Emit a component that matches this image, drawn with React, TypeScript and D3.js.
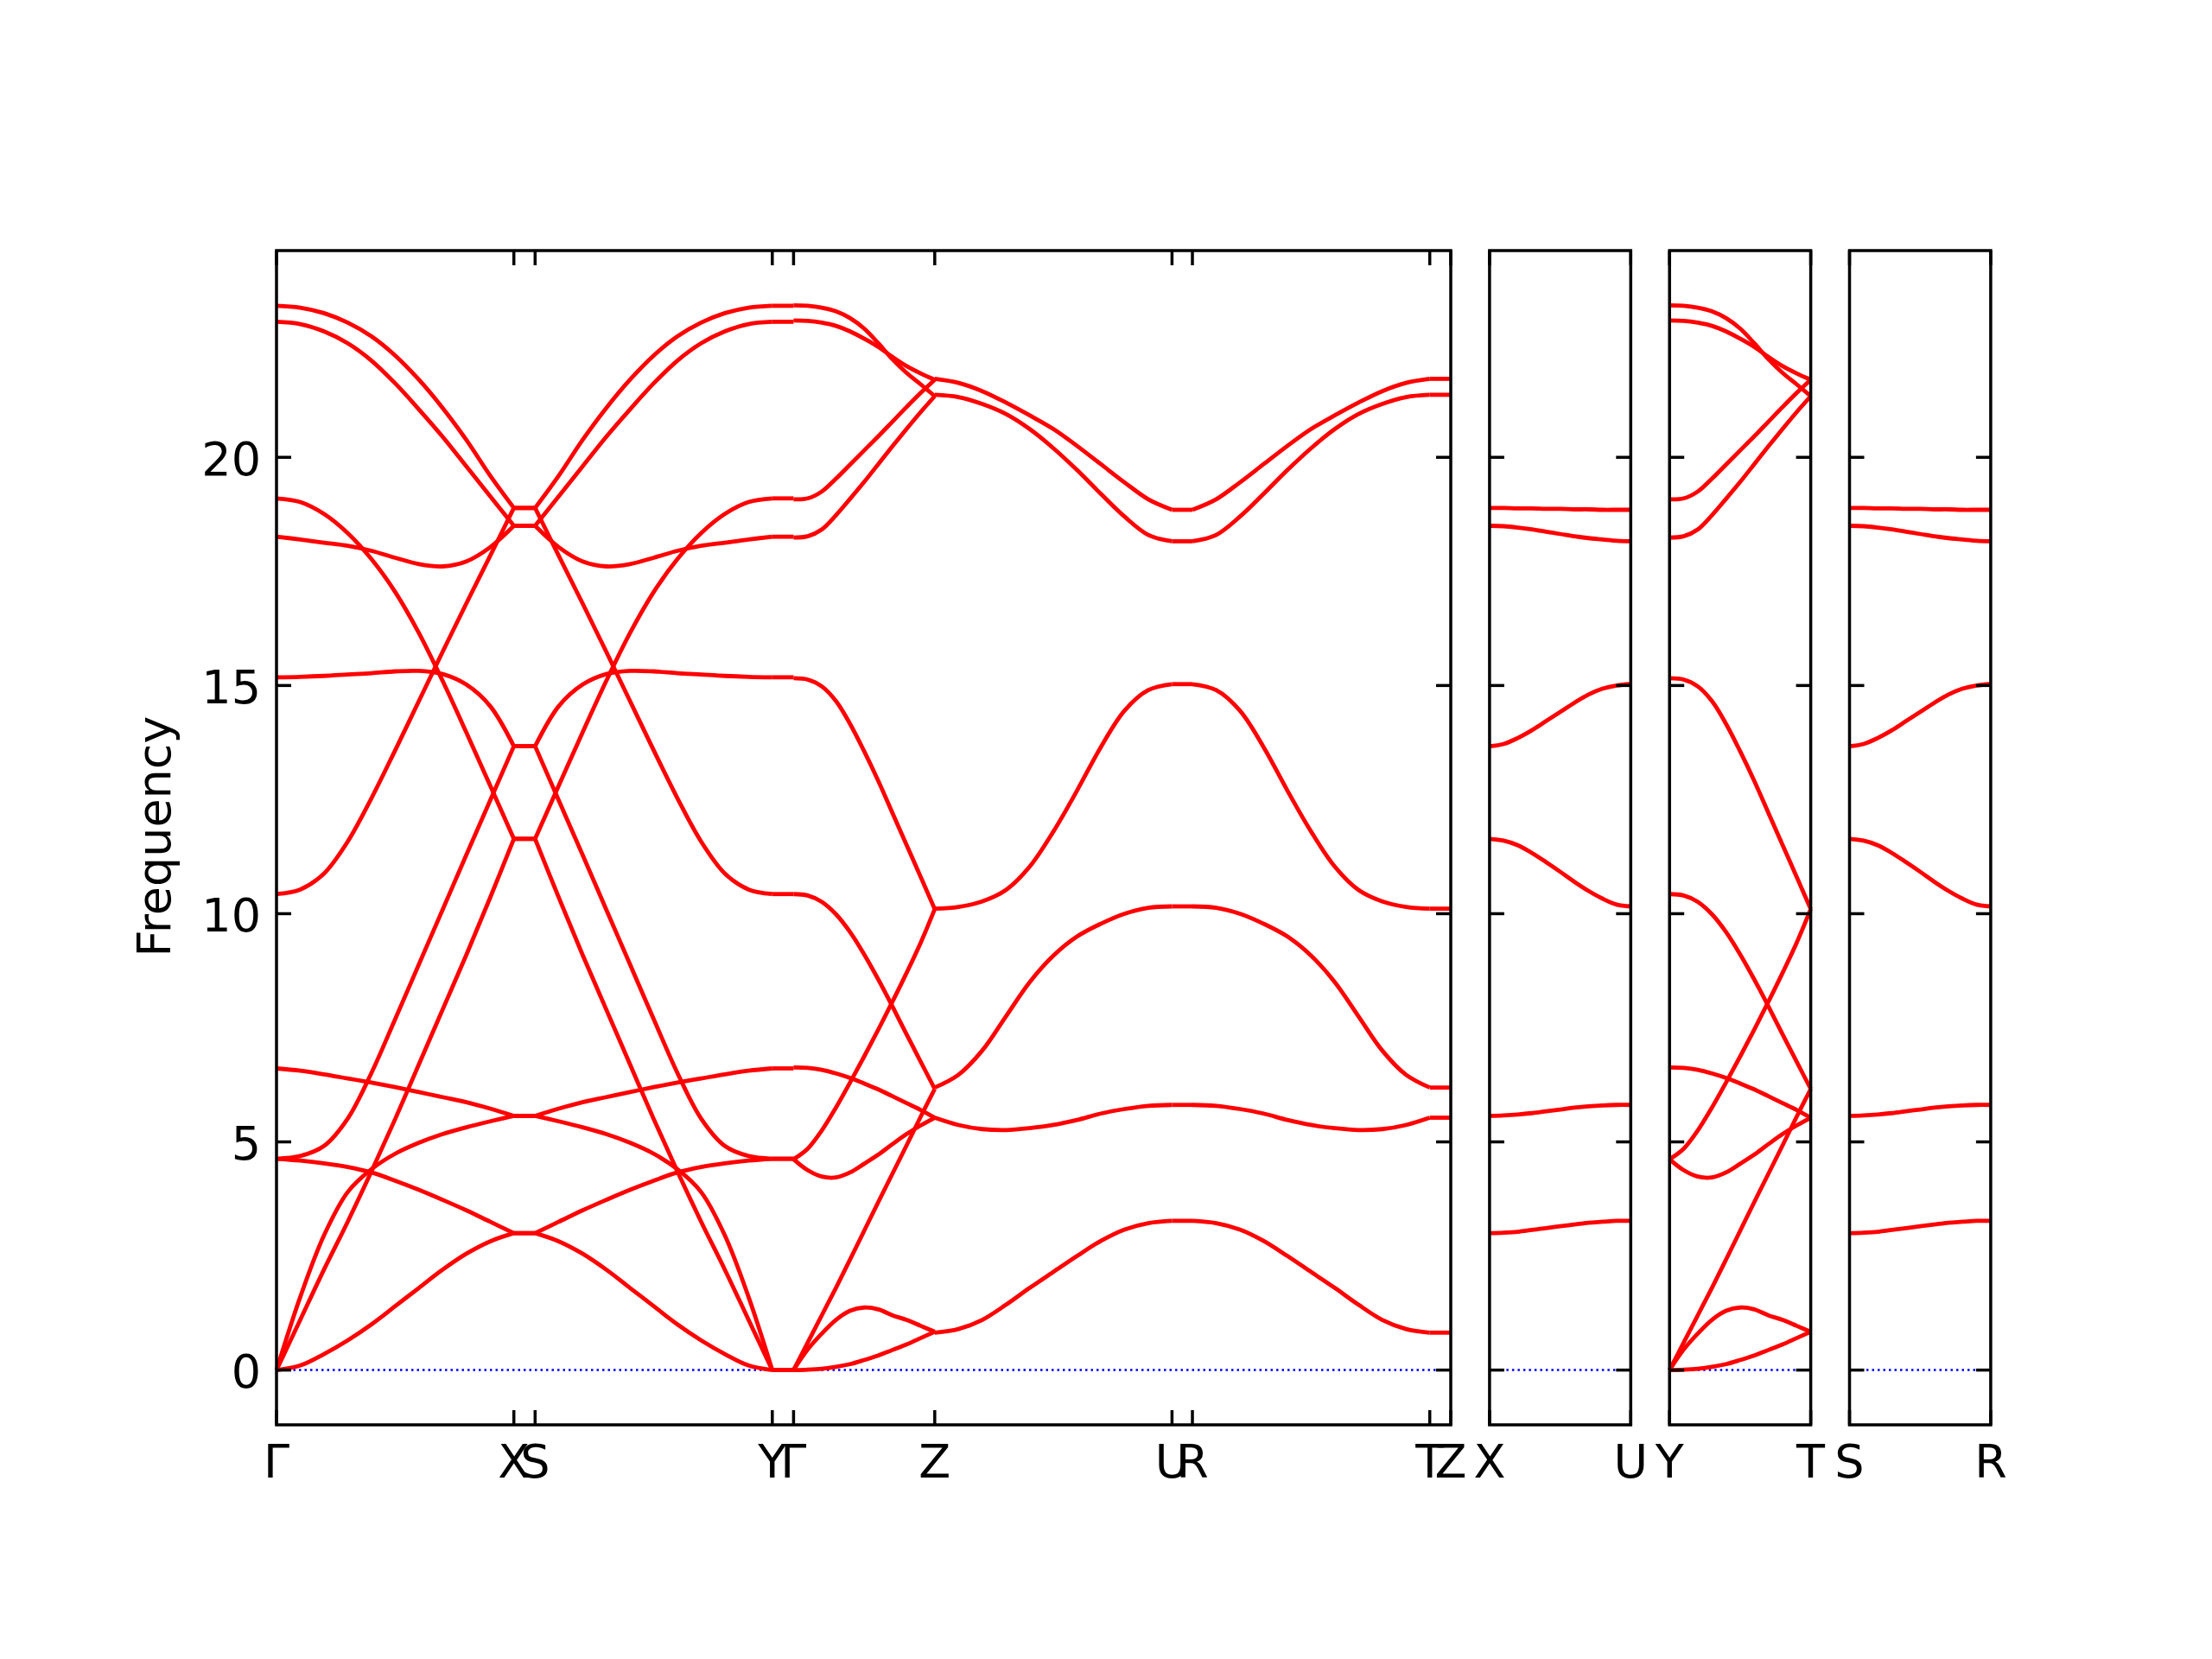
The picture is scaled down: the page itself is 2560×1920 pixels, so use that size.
import React from 'react'
import * as d3 from 'd3'

const W = 2560
const H = 1920

// band values sampled at t = 0, 0.1, ... 1 along each path segment
// Γ–X (S–Y is the same segment walked backwards)
const gammaX = [
  [23.32, 23.28, 23.16, 22.95, 22.65, 22.23, 21.7, 21.08, 20.38, 19.6, 18.89],
  [22.97, 22.92, 22.76, 22.5, 22.12, 21.62, 21.05, 20.45, 19.8, 19.15, 18.5],
  [19.1, 19.02, 18.76, 18.34, 17.77, 17.05, 16.15, 15.1, 13.97, 12.81, 11.64],
  [10.43, 10.53, 10.88, 11.58, 12.53, 13.58, 14.66, 15.74, 16.8, 17.84, 18.89],
  [15.18, 15.19, 15.21, 15.24, 15.27, 15.31, 15.32, 15.25, 15.02, 14.55, 13.67],
  [18.26, 18.2, 18.13, 18.06, 17.95, 17.8, 17.66, 17.61, 17.72, 18.03, 18.5],
  [6.61, 6.56, 6.48, 6.39, 6.3, 6.2, 6.09, 5.98, 5.87, 5.73, 5.57],
  [4.63, 4.69, 4.91, 5.51, 6.51, 7.69, 8.89, 10.09, 11.29, 12.48, 13.67],
  [0, 1.1, 2.2, 3.25, 4.35, 5.5, 6.7, 7.9, 9.1, 10.35, 11.64],
  [4.63, 4.59, 4.53, 4.45, 4.33, 4.15, 3.95, 3.73, 3.5, 3.25, 3.0],
  [0, 1.6, 2.95, 3.9, 4.4, 4.74, 4.98, 5.17, 5.32, 5.45, 5.57],
  [0, 0.1, 0.35, 0.65, 1.0, 1.4, 1.8, 2.2, 2.55, 2.82, 3.0],
]

// Γ–Z (Y–T looks identical)
const gammaZ = [
  [23.33, 23.32, 23.28, 23.2, 23.05, 22.82, 22.5, 22.15, 21.85, 21.6, 21.34],
  [23.0, 22.99, 22.95, 22.88, 22.76, 22.6, 22.42, 22.2, 22.0, 21.84, 21.7],
  [19.08, 19.1, 19.25, 19.53, 19.84, 20.15, 20.46, 20.78, 21.1, 21.41, 21.7],
  [18.24, 18.27, 18.42, 18.73, 19.09, 19.46, 19.85, 20.24, 20.62, 20.99, 21.34],
  [15.16, 15.13, 14.98, 14.66, 14.16, 13.56, 12.91, 12.21, 11.51, 10.81, 10.1],
  [10.43, 10.4, 10.26, 9.99, 9.6, 9.11, 8.56, 7.97, 7.36, 6.76, 6.16],
  [6.63, 6.62, 6.58, 6.5, 6.4, 6.28, 6.15, 6.0, 5.85, 5.7, 5.53],
  [4.62, 4.85, 5.25, 5.75, 6.3, 6.87, 7.46, 8.07, 8.7, 9.36, 10.1],
  [4.62, 4.38, 4.24, 4.22, 4.33, 4.52, 4.72, 4.95, 5.17, 5.36, 5.53],
  [0, 0.6, 1.2, 1.8, 2.42, 3.05, 3.68, 4.3, 4.92, 5.55, 6.16],
  [0, 0.45, 0.8, 1.1, 1.3, 1.37, 1.33, 1.2, 1.1, 0.97, 0.84],
  [0, 0.01, 0.03, 0.07, 0.13, 0.22, 0.32, 0.44, 0.56, 0.7, 0.84],
]

// Z–U (R–T is the mirror), every line doubly degenerate
const zU = [
  [21.72, 21.63, 21.45, 21.2, 20.92, 20.62, 20.25, 19.85, 19.45, 19.08, 18.85],
  [21.37, 21.32, 21.17, 20.95, 20.62, 20.2, 19.72, 19.2, 18.7, 18.3, 18.16],
  [10.11, 10.15, 10.27, 10.52, 11.03, 11.8, 12.7, 13.65, 14.45, 14.9, 15.03],
  [6.19, 6.47, 7.0, 7.75, 8.5, 9.08, 9.5, 9.78, 10.0, 10.13, 10.16],
  [5.53, 5.37, 5.28, 5.26, 5.3, 5.37, 5.48, 5.62, 5.72, 5.79, 5.81],
  [0.82, 0.9, 1.1, 1.43, 1.8, 2.15, 2.5, 2.83, 3.08, 3.22, 3.27],
]

// X–U (S–R looks identical)
const xU = [
  [18.89, 18.89, 18.88, 18.88, 18.87, 18.87, 18.86, 18.86, 18.85, 18.85, 18.85],
  [18.5, 18.49, 18.46, 18.42, 18.37, 18.32, 18.27, 18.23, 18.2, 18.17, 18.16],
  [13.67, 13.72, 13.85, 14.02, 14.22, 14.42, 14.62, 14.8, 14.93, 15.0, 15.03],
  [11.64, 11.6, 11.5, 11.33, 11.13, 10.92, 10.7, 10.5, 10.33, 10.2, 10.16],
  [5.57, 5.58, 5.6, 5.63, 5.67, 5.71, 5.75, 5.78, 5.8, 5.81, 5.81],
  [3.0, 3.01, 3.03, 3.07, 3.11, 3.15, 3.19, 3.23, 3.25, 3.27, 3.27],
]

const mainLabels = ['Γ', 'X', 'S', 'Y', 'Γ', 'Z', 'U', 'R', 'T', 'Z']
const mainDist = [0, 0.2747, 0.2993, 0.5738, 0.5984, 0.7618, 1.0364, 1.06, 1.3347, 1.359]
const sideLabels = [['X', 'U'], ['Y', 'T'], ['S', 'R']]
const sideLength = 0.1634
const yTicks = [0, 5, 10, 15, 20]

const first = (bands: number[][]) => bands.map(b => [b[0], b[0]])
const last = (bands: number[][]) => bands.map(b => [b[b.length - 1], b[b.length - 1]])
const rev = (bands: number[][]) => bands.map(b => b.slice().reverse())

// main panel: [from point, to point, bands]
const mainSegments: [number, number, number[][]][] = [
  [0, 1, gammaX],
  [1, 2, last(gammaX)],
  [2, 3, rev(gammaX)],
  [3, 4, first(gammaX)],
  [4, 5, gammaZ],
  [5, 6, zU],
  [6, 7, last(zU)],
  [7, 8, rev(zU)],
  [8, 9, first(zU)],
]
const sideSegments = [xU, gammaZ, xU]

const top = 290
const bottom = 1649
const yScale = d3.scaleLinear().domain([-1.2, 24.53]).range([bottom, top])

const font = 'DejaVu Sans, sans-serif'
const fs = 54
const tickLen = 17

const Panel = ({ x0, x1, dist, labels, segments, yLabels }: any) => {
  const xs = d3.scaleLinear().domain([0, dist[dist.length - 1]]).range([x0, x1])
  const line = d3.line<number[]>()
    .x(d => xs(d[0]))
    .y(d => yScale(d[1]))
    .curve(d3.curveCatmullRom.alpha(0.5))

  const paths: string[] = []
  segments.forEach(([a, b, bands]: [number, number, number[][]]) => {
    bands.forEach(vals => {
      const pts = vals.map((v, i) => [dist[a] + (dist[b] - dist[a]) * i / (vals.length - 1), v])
      paths.push(line(pts) as string)
    })
  })

  return (
    <g>
      <line x1={x0} x2={x1} y1={yScale(0)} y2={yScale(0)} stroke="#0000ff"
        strokeWidth={2.5} strokeDasharray="2.5 4" />
      {paths.map((p, i) => (
        <path key={i} d={p} fill="none" stroke="#ff0000" strokeWidth={4.8}
          strokeLinejoin="round" strokeLinecap="butt" />
      ))}
      {yTicks.map(t => (
        <g key={t}>
          <line x1={x0} x2={x0 + tickLen} y1={yScale(t)} y2={yScale(t)} stroke="#000" strokeWidth={3.5} />
          <line x1={x1 - tickLen} x2={x1} y1={yScale(t)} y2={yScale(t)} stroke="#000" strokeWidth={3.5} />
          {yLabels && (
            <text x={x0 - 18} y={yScale(t)} dy="0.38em" textAnchor="end"
              fontFamily={font} fontSize={fs}>{t}</text>
          )}
        </g>
      ))}
      {dist.map((d: number, i: number) => (
        <g key={i}>
          <line x1={xs(d)} x2={xs(d)} y1={bottom} y2={bottom - tickLen} stroke="#000" strokeWidth={3.5} />
          <line x1={xs(d)} x2={xs(d)} y1={top} y2={top + tickLen} stroke="#000" strokeWidth={3.5} />
          <text x={xs(d)} y={1710} textAnchor="middle" fontFamily={font} fontSize={fs}>{labels[i]}</text>
        </g>
      ))}
      <rect x={x0} y={top} width={x1 - x0} height={bottom - top} fill="none"
        stroke="#000" strokeWidth={3.5} />
    </g>
  )
}

const sideLefts = [1723.9, 1932.2, 2140.5]
const sideWidth = 163.4

export default function App() {
  return (
    <svg width={W} height={H} viewBox={`0 0 ${W} ${H}`}
      style={{ position: 'absolute', left: 0, top: 0, background: '#fff' }}>
      <rect x={0} y={0} width={W} height={H} fill="#fff" />
      <Panel x0={320} x1={1679} dist={mainDist} labels={mainLabels}
        segments={mainSegments} yLabels />
      {sideSegments.map((bands, i) => (
        <Panel key={i} x0={sideLefts[i]} x1={sideLefts[i] + sideWidth}
          dist={[0, sideLength]} labels={sideLabels[i]}
          segments={[[0, 1, bands]]} yLabels={false} />
      ))}
      <text transform={`translate(197,968) rotate(-90)`} textAnchor="middle"
        fontFamily={font} fontSize={fs}>Frequency</text>
    </svg>
  )
}
